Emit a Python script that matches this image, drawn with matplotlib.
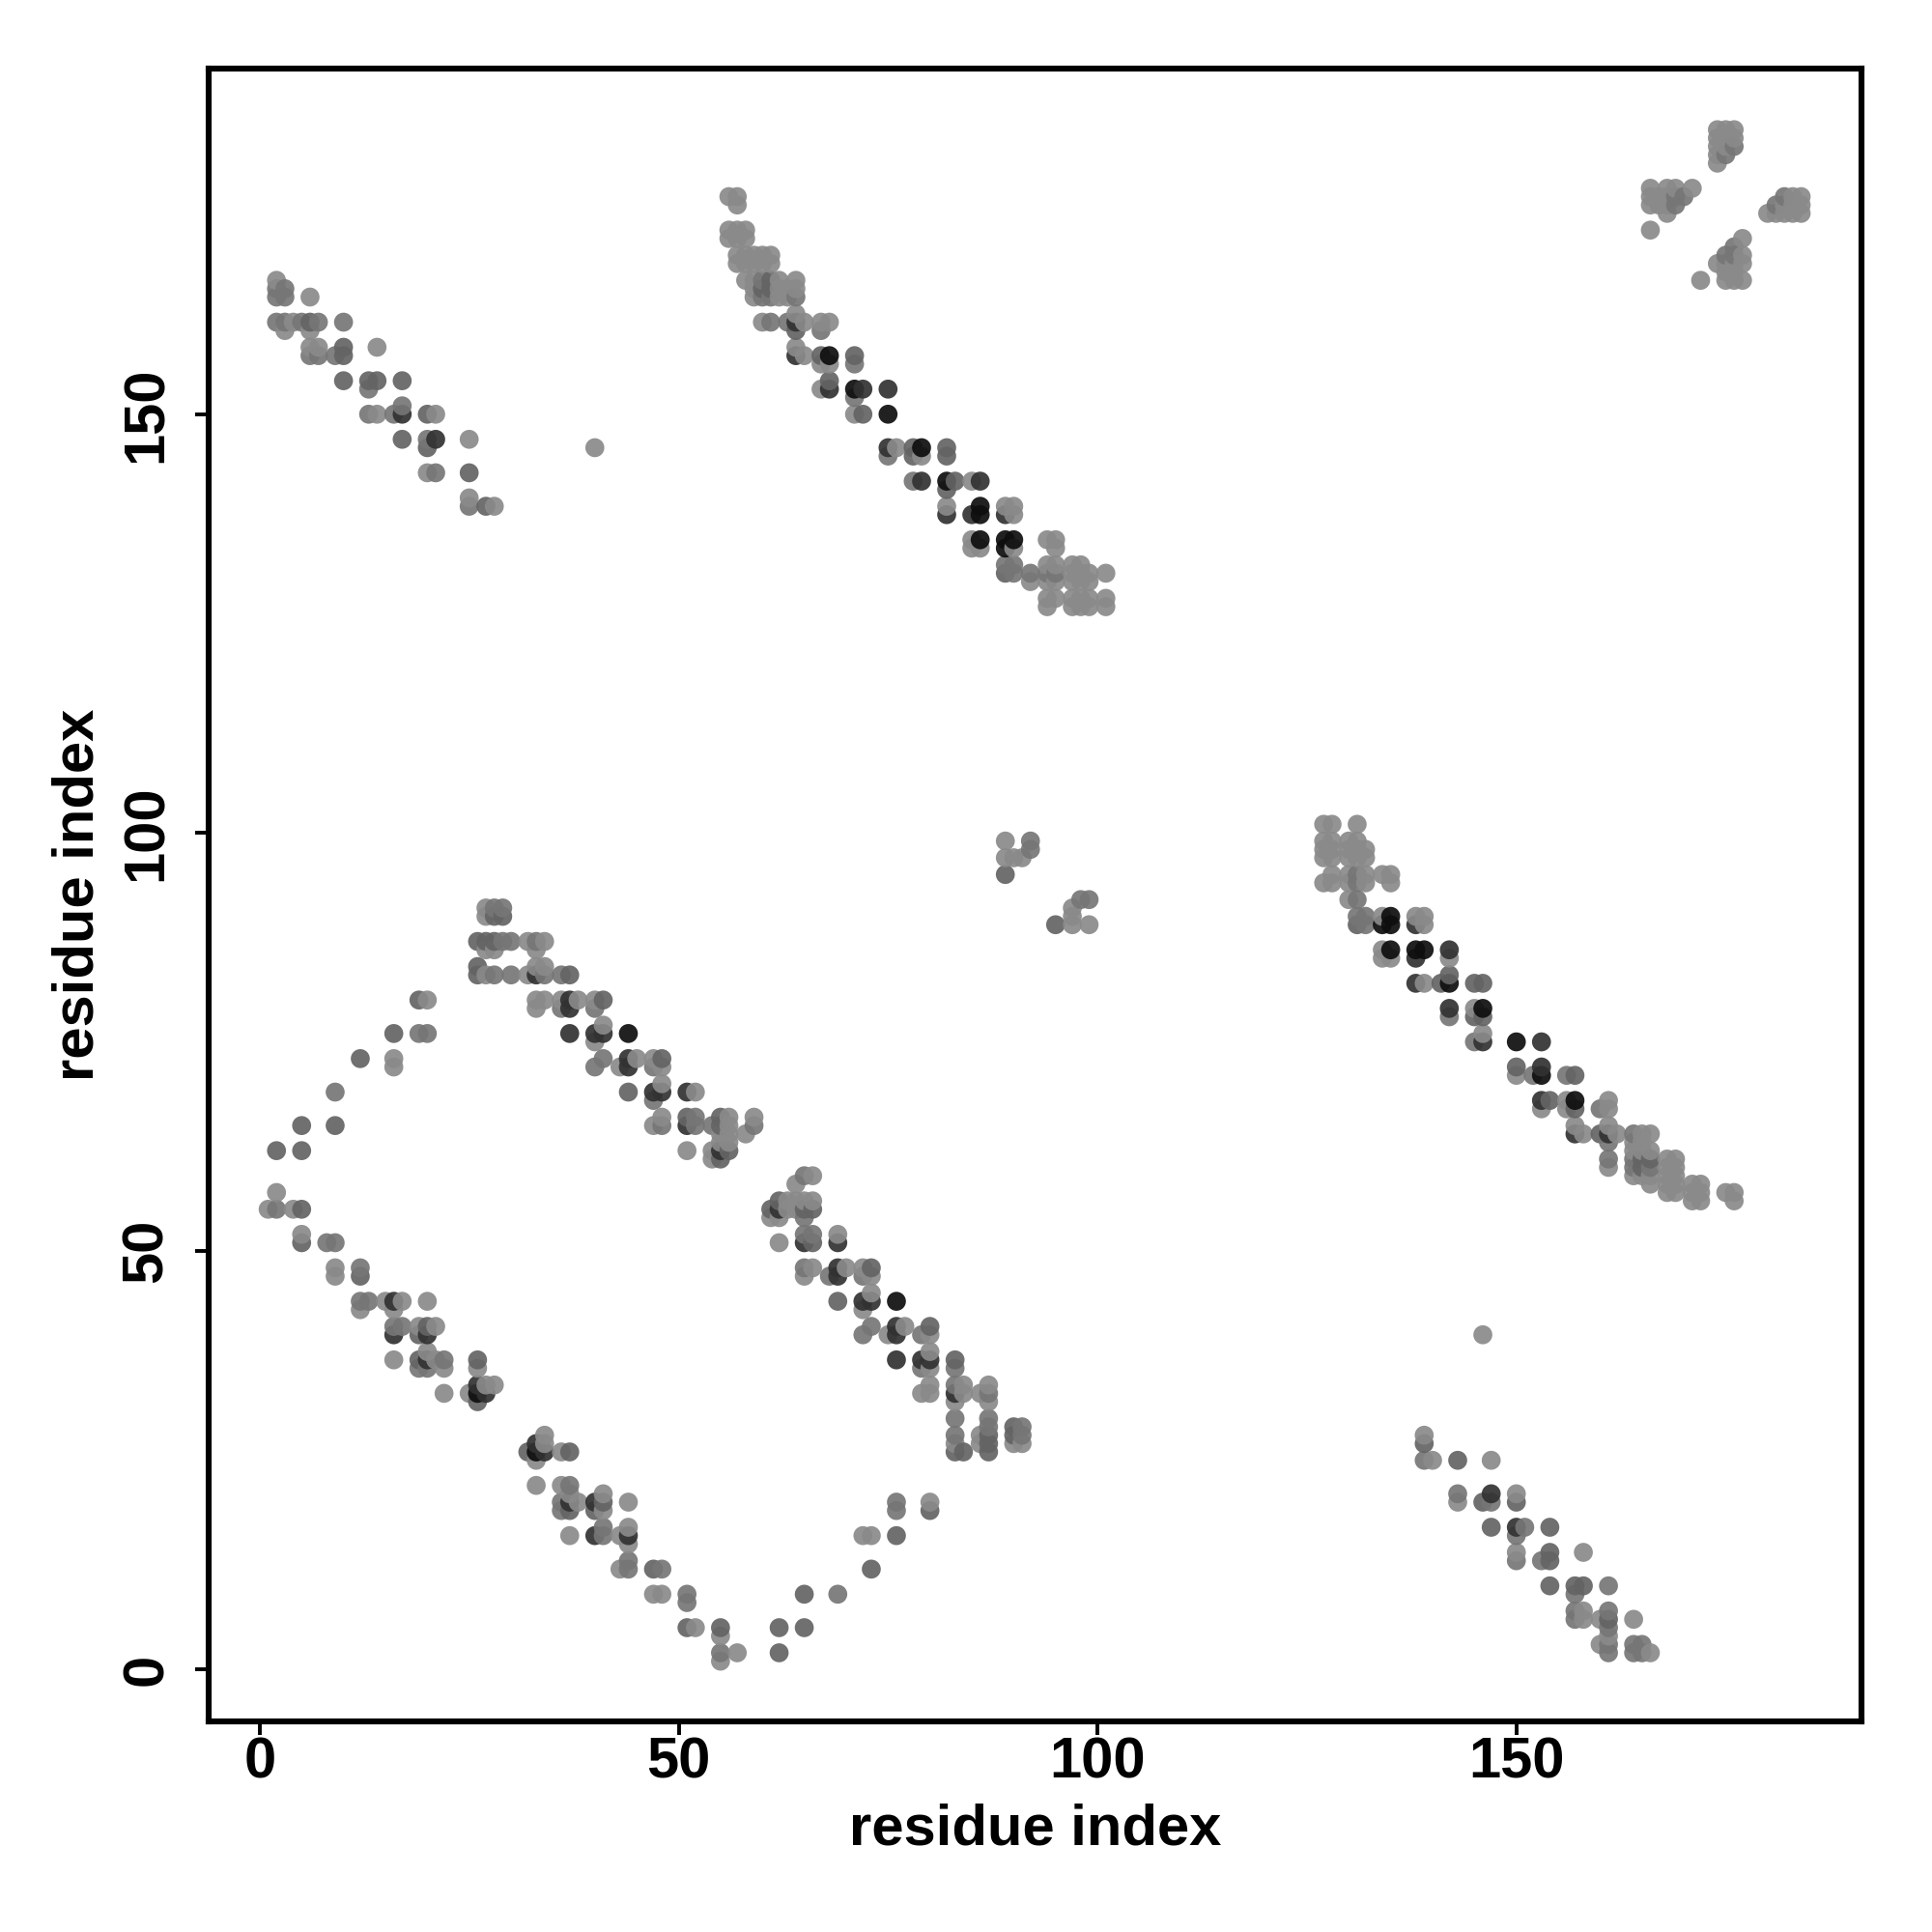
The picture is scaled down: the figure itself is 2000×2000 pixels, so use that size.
"""Residue contact map: symmetric scatter of contacts, darker = stronger score."""
import numpy as np
import matplotlib
matplotlib.use("Agg")
import matplotlib.pyplot as plt
from matplotlib.colors import LinearSegmentedColormap

plt.rcParams["font.family"] = ["Liberation Sans", "DejaVu Sans"]
plt.rcParams["font.weight"] = "bold"

# score levels
L, M, N, K, B = 0.03, 0.17, 0.3, 0.65, 0.9

# (residue i, residue j, score), i < j; every contact is drawn at (i, j) and (j, i)
hairpin = [
    (2, 62, N), (5, 62, N), (2, 57, L), (1, 55, L), (2, 55, M), (4, 55, L), (5, 55, N),
    (5, 52, L), (5, 51, N), (8, 51, M), (9, 51, M), (9, 48, L), (9, 47, L), (12, 48, M),
    (12, 47, N), (12, 44, M), (13, 44, M), (12, 43, L), (15, 44, L), (16, 44, K),
    (17, 44, L), (16, 43, L), (20, 44, L), (16, 41, M), (17, 41, M), (16, 40, K),
    (19, 41, L), (20, 41, N), (21, 41, L), (19, 40, N), (20, 40, K), (16, 37, L),
    (20, 38, L), (19, 37, N), (20, 37, K), (19, 36, M), (20, 36, M), (21, 37, L),
    (22, 37, M), (22, 36, L), (22, 33, L), (26, 37, N), (26, 36, L), (25, 33, L),
    (27, 33, K), (26, 33, B), (26, 34, K), (27, 34, L), (28, 34, L), (26, 32, N),
    (9, 65, N), (5, 65, N), (9, 69, M), (12, 73, N), (16, 72, L), (16, 73, L),
    (16, 76, N), (19, 76, M), (20, 76, M), (19, 80, N), (20, 80, L),
]
strand_ab = [
    (27, 91, L), (28, 91, M), (29, 91, M), (27, 90, L), (28, 90, N), (29, 90, N),
    (26, 87, N), (27, 87, N), (28, 87, N), (29, 87, M), (30, 87, M), (32, 87, L),
    (33, 87, M), (34, 87, L), (27, 86, L), (28, 86, L), (33, 86, L), (26, 84, N),
    (33, 84, L), (34, 84, L), (26, 83, N), (27, 83, L), (28, 83, M), (30, 83, M),
    (32, 83, L), (33, 83, K), (34, 83, M), (36, 83, M), (37, 83, N), (33, 80, L),
    (34, 80, L), (36, 80, L), (37, 80, K), (38, 80, L), (40, 80, L), (41, 80, N),
    (33, 79, L), (36, 79, M), (37, 79, K), (40, 79, M), (37, 76, K), (40, 76, K),
    (41, 76, K), (41, 77, L), (40, 75, L), (44, 76, B), (41, 73, M), (40, 72, M),
    (44, 73, K), (45, 73, L), (43, 72, L), (44, 72, K), (47, 73, L), (48, 73, N),
    (47, 72, M), (48, 72, L), (44, 69, N), (47, 69, K), (48, 69, K), (48, 70, L),
    (47, 68, M), (51, 69, K), (52, 69, L), (48, 66, L), (47, 65, L), (48, 65, M),
    (51, 66, N), (52, 66, M), (51, 65, K), (52, 65, M), (54, 65, M), (55, 66, N),
    (56, 66, L), (55, 65, N), (56, 65, L), (56, 64, L), (55, 64, L), (59, 66, L),
    (59, 65, M), (58, 64, L), (51, 62, L), (55, 63, L), (56, 63, L), (54, 62, L),
    (55, 62, K), (56, 62, N), (54, 61, L), (55, 61, N),
]
strand_cd = [
    (56, 176, L), (57, 176, L), (57, 175, L), (56, 172, L), (57, 172, L), (58, 172, L),
    (56, 171, L), (57, 171, L), (58, 171, L), (57, 169, L), (58, 169, L), (59, 169, L),
    (60, 169, L), (61, 169, L), (57, 168, L), (58, 168, L), (59, 168, L), (60, 168, L),
    (61, 168, L), (58, 166, L), (59, 166, L), (60, 166, M), (61, 166, N), (62, 166, L),
    (64, 166, L), (59, 165, L), (60, 165, N), (61, 165, N), (62, 165, L), (63, 165, L),
    (64, 165, L), (59, 164, L), (60, 164, M), (61, 164, M), (62, 164, L), (63, 164, L),
    (64, 164, M), (60, 161, L), (61, 161, M), (63, 161, M), (64, 162, L), (64, 161, K),
    (65, 161, L), (64, 160, N), (67, 161, L), (68, 161, L), (67, 160, M), (64, 158, L),
    (64, 157, K), (65, 157, L), (67, 157, N), (68, 157, B), (67, 156, L), (68, 156, L),
    (71, 157, N), (71, 156, M), (67, 153, L), (68, 154, N), (68, 153, K), (71, 153, B),
    (72, 153, K), (71, 152, M), (75, 153, K), (71, 150, L), (72, 150, N), (75, 150, B),
    (75, 146, K), (76, 146, L), (75, 145, M), (78, 146, N), (79, 146, B), (78, 145, N),
    (79, 145, L), (82, 146, N), (82, 145, N), (78, 142, M), (79, 142, K), (82, 142, B),
    (83, 142, N), (82, 141, N), (85, 142, L), (86, 142, K), (82, 139, L), (82, 138, K),
    (85, 138, K), (86, 139, B), (86, 138, B), (89, 139, L), (90, 139, L), (89, 138, K),
    (90, 138, L), (85, 135, L), (86, 135, B), (85, 134, L), (86, 134, L), (89, 135, B),
    (90, 135, B), (89, 134, B), (90, 134, L), (94, 135, L), (95, 135, L), (95, 134, L),
    (89, 132, M), (90, 132, M), (89, 131, N), (90, 131, M), (92, 131, M), (92, 130, L),
    (94, 132, L), (95, 132, L), (94, 131, M), (95, 131, M), (94, 130, L), (95, 130, L),
    (97, 132, L), (98, 132, L), (97, 131, L), (98, 131, L), (99, 131, L), (97, 130, L),
    (98, 130, L), (99, 130, L), (101, 131, L), (94, 128, L), (95, 128, L), (94, 127, L),
    (97, 128, L), (98, 128, L), (99, 128, L), (97, 127, L), (98, 127, L), (99, 127, L),
    (101, 128, L), (101, 127, L),
]
strand_ef = [
    (2, 166, L), (2, 165, M), (3, 165, M), (2, 164, M), (3, 164, M), (6, 164, L),
    (2, 161, M), (3, 161, M), (4, 161, L), (5, 161, M), (6, 161, N), (7, 161, M),
    (3, 160, L), (6, 160, L), (10, 161, M), (6, 158, L), (7, 158, L), (6, 157, M),
    (7, 157, M), (9, 157, M), (10, 158, N), (10, 157, N), (14, 158, L), (10, 154, N),
    (13, 154, N), (14, 154, N), (13, 153, M), (17, 154, N), (13, 150, M), (14, 150, L),
    (16, 150, M), (17, 151, M), (17, 150, K), (20, 150, N), (21, 150, L), (17, 147, N),
    (20, 147, M), (21, 147, K), (20, 146, N), (25, 147, L), (20, 143, L), (21, 143, M),
    (25, 143, N), (25, 140, L), (25, 139, M), (27, 139, N), (28, 139, L), (40, 146, L),
]
loops = [
    (89, 99, L), (92, 99, M), (92, 98, M), (89, 97, L), (90, 97, L), (91, 97, L),
    (89, 95, N),
]
corner = [
    (166, 177, L), (166, 176, L), (166, 175, L), (167, 176, L), (167, 175, L),
    (168, 177, L), (168, 176, L), (168, 175, L), (168, 174, L), (169, 177, L),
    (169, 176, M), (169, 175, M), (170, 176, M), (171, 177, L), (166, 172, L),
    (174, 184, L), (174, 183, L), (174, 182, L), (174, 181, L), (174, 180, L),
    (175, 184, L), (175, 183, L), (175, 182, L), (175, 181, M), (176, 184, L),
    (176, 183, L), (176, 182, M),
]

contacts = np.array(hairpin + strand_ab + strand_cd + strand_ef + loops + corner)
res_i, res_j, score = contacts.T

x_ticks = [0, 50, 100, 150]
y_ticks = [0, 50, 100, 150]

# both halves of the map, drawn in residue order so later dots sit on top
x = np.concatenate([res_i, res_j])
y = np.concatenate([res_j, res_i])
s = np.concatenate([score, score])
order = np.lexsort((y, x))

fig = plt.figure(figsize=(10, 10), dpi=200)
ax = fig.add_axes([216 / 2000, 1 - 1782 / 2000, 1711 / 2000, 1711 / 2000])

greys = LinearSegmentedColormap.from_list("greys", ["#8e8e8e", "#000000"])
ax.scatter(x[order], y[order], c=s[order], cmap=greys, vmin=0, vmax=1,
           s=50, alpha=0.92, linewidths=0)

ax.set_xlim(-6.1, 191.2)
ax.set_ylim(-6.2, 191.3)
ax.set_xticks(x_ticks)
ax.set_yticks(y_ticks)
ax.tick_params(length=5, width=1.4, labelsize=21.5)
ax.tick_params(axis="x", pad=0.5)
ax.tick_params(axis="y", pad=8)
for lab in ax.get_yticklabels():
    lab.set_rotation(90)
    lab.set_va("center")
for sp in ax.spines.values():
    sp.set_linewidth(2.2)

ax.set_xlabel("residue index", fontsize=21.5, fontweight="bold", labelpad=5)
ax.set_ylabel("residue index", fontsize=21.5, fontweight="bold", labelpad=6)

fig.savefig("out.png", dpi=200)
